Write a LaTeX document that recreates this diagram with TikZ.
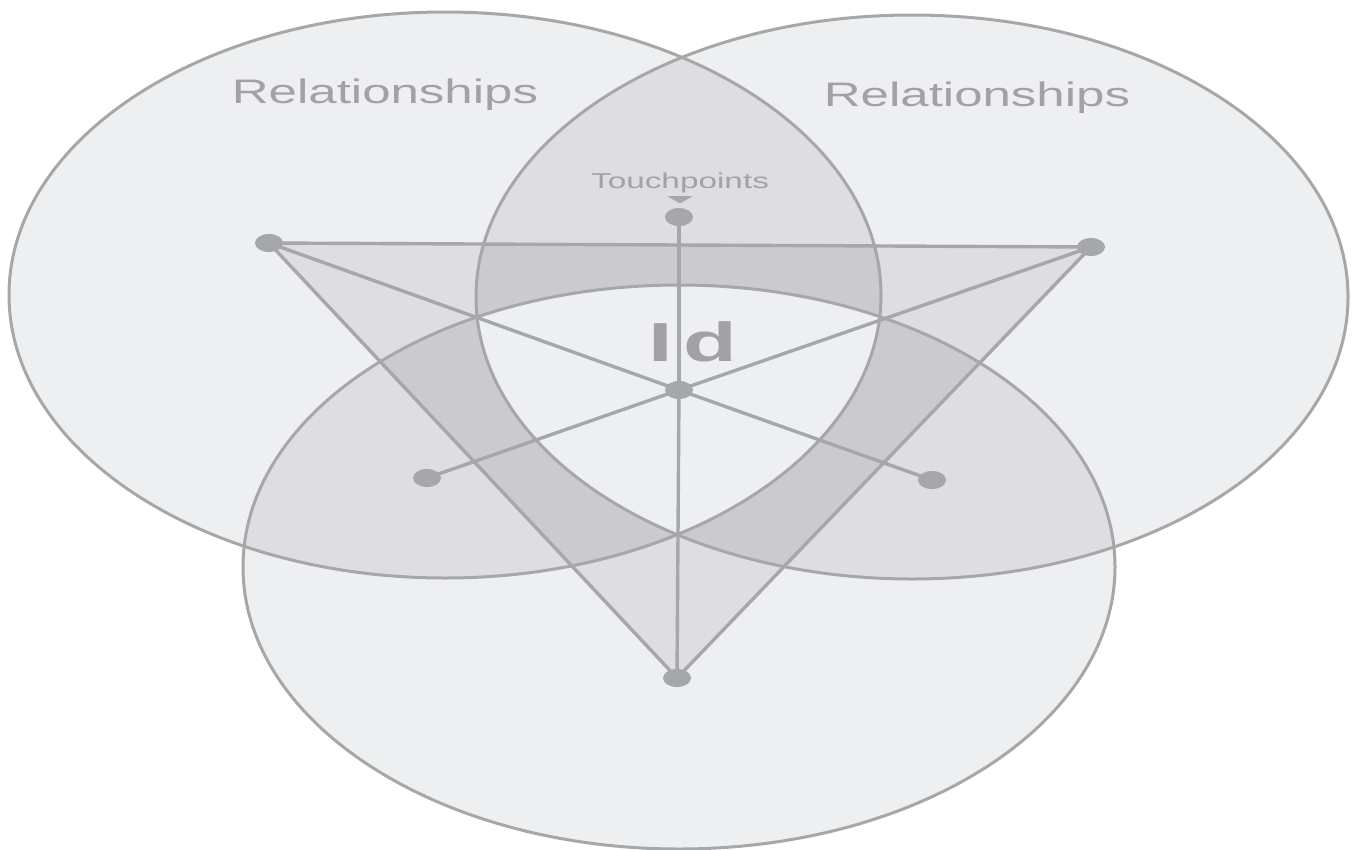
\documentclass[tikz,border=0pt]{standalone}
\usepackage{fontspec}
\setmainfont{Liberation Sans}
\usetikzlibrary{shapes.geometric}
\definecolor{cA}{HTML}{EEEFF1}
\definecolor{cB}{HTML}{DEDEE0}
\definecolor{cC}{HTML}{CBCBCD}
\definecolor{lineC}{HTML}{A6A7A9}
\definecolor{textC}{HTML}{A2A2A4}
\pgfdeclarelayer{fills}
\pgfdeclarelayer{lines}
\pgfsetlayers{fills,lines,main}
\begin{document}
\begin{tikzpicture}[x=1pt,y=-1pt,
  dotn/.style={ellipse,fill=lineC,inner sep=0pt,minimum width=28pt,minimum height=18pt},
  conn/.style={draw=lineC,line width=3.4pt},
  rim/.style={draw=lineC,line width=3pt},
  lbl/.style={text=textC,inner sep=0pt,anchor=base}]
\useasboundingbox (0,0) rectangle (1354,849);
\def\elA{(445,295) ellipse [x radius=436pt, y radius=283pt]}
\def\elB{(912,297) ellipse [x radius=436pt, y radius=282pt]}
\def\elC{(679,567) ellipse [x radius=436pt, y radius=282pt]}
% dots
\node[dotn] (L) at (269,243) {};
\node[dotn] (R) at (1091,247) {};
\node[dotn] (B) at (677,678) {};
\node[dotn] (T) at (679,217) {};
\node[dotn] (C) at (679,390) {};
\node[dotn] (LL) at (427,478) {};
\node[dotn] (LR) at (932,480) {};
% fills
\begin{pgfonlayer}{fills}
\fill[white] (0,0) rectangle (1354,849);
\fill[cA] \elA; \fill[cA] \elB; \fill[cA] \elC;
\begin{scope}\clip \elA; \fill[cB] \elB; \fill[cB] \elC; \end{scope}
\begin{scope}\clip \elB; \fill[cB] \elC; \end{scope}
\fill[cB] (L.center)--(R.center)--(B.center)--cycle;
\begin{scope}
  \clip (L.center)--(R.center)--(B.center)--cycle;
  \begin{scope}\clip \elA; \fill[cC] \elB; \fill[cC] \elC; \end{scope}
  \begin{scope}\clip \elB; \fill[cC] \elC; \end{scope}
\end{scope}
\begin{scope}\clip \elA; \clip \elB; \fill[cA] \elC; \end{scope}
\end{pgfonlayer}
% outlines and connectors
\begin{pgfonlayer}{lines}
\path[rim] \elA; \path[rim] \elB; \path[rim] \elC;
\draw[conn] (L.center) -- (R.center);
\draw[conn] (L.center) -- (B.center);
\draw[conn] (R.center) -- (B.center);
\draw[conn] (L.center) -- (C.center);
\draw[conn] (R.center) -- (C.center);
\draw[conn] (T.center) -- (C.center);
\draw[conn] (C.center) -- (B.center);
\draw[conn] (C.center) -- (LL.center);
\draw[conn] (C.center) -- (LR.center);
\end{pgfonlayer}
% marker under Touchpoints
\fill[lineC] (667,196) -- (693,196) -- (680,203.5) -- cycle;
% labels
\node[lbl,xscale=1.5,font=\fontsize{34}{40}\selectfont] (rl) at (385,103) {Relationships};
\node[lbl,xscale=1.5,font=\fontsize{34}{40}\selectfont] (rr) at (977,106) {Relationships};
\node[lbl,xscale=1.55,font=\fontsize{21.5}{26}\selectfont] (tp) at (680,188) {Touchpoints};
\node[lbl,xscale=1.6,font=\bfseries\fontsize{55}{60}\selectfont] (id) at (693,361) {I\kern7pt d};
\end{tikzpicture}
\end{document}
